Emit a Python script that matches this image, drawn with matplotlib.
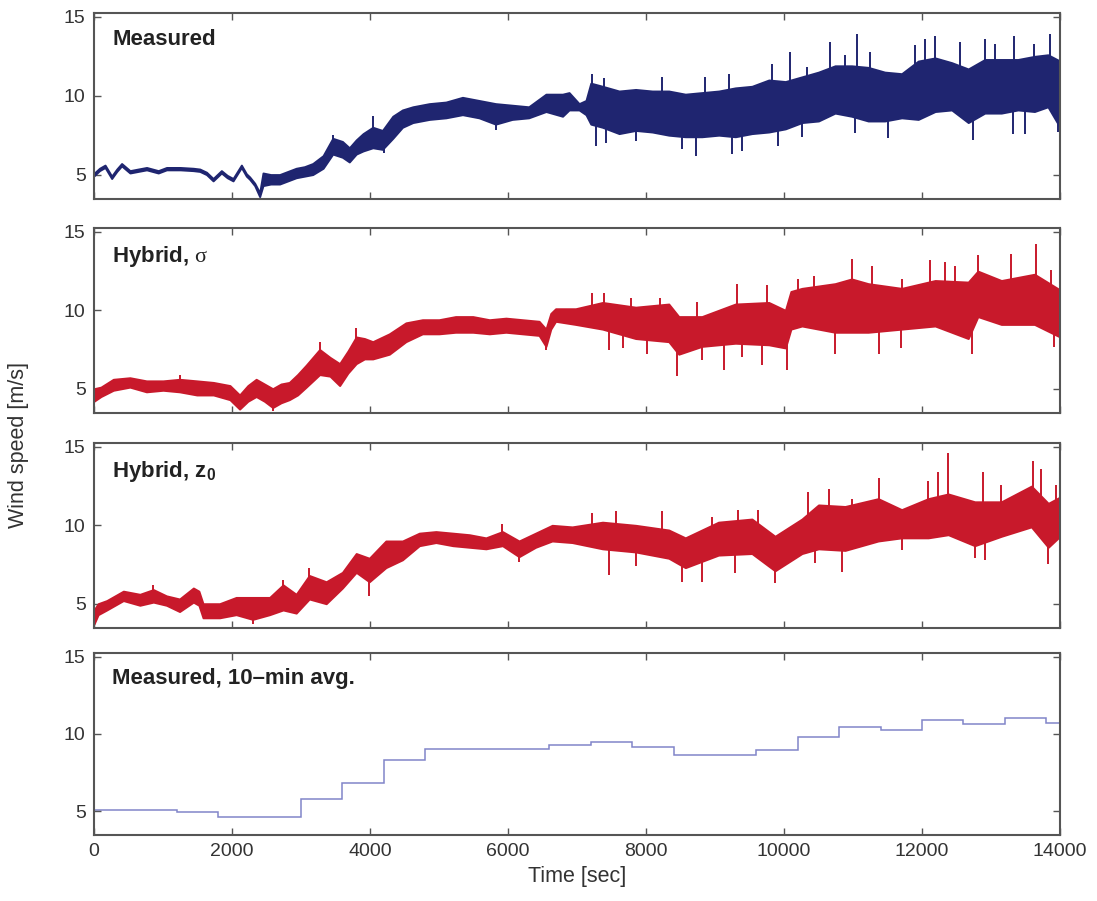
import matplotlib
matplotlib.use("Agg")
import matplotlib.pyplot as plt
import numpy as np

plt.rcParams['font.family'] = ['Liberation Sans', 'DejaVu Sans']
plt.rcParams['mathtext.fontset'] = 'custom'
plt.rcParams['mathtext.rm'] = 'Liberation Sans:bold'
plt.rcParams['mathtext.it'] = 'Liberation Serif'
plt.rcParams['mathtext.bf'] = 'Liberation Sans:bold'

# ---------------- data ----------------
# Measured: core envelope
t_meas = [0, 80, 160, 256, 330, 400, 521, 640, 762, 931, 1051, 1250, 1437, 1533, 1630, 1726,
          1846, 1930, 2015, 2136, 2208, 2256, 2329, 2401, 2449, 2560, 2690, 2810, 2930, 3050,
          3170, 3320, 3460, 3600, 3700, 3800, 3900, 4040, 4180, 4330, 4470, 4620, 4860, 5100,
          5340, 5580, 5820, 6060, 6300, 6550, 6790, 6885, 7030, 7130, 7200, 7370, 7610, 7850,
          8090, 8330, 8570, 8810, 9055, 9295, 9535, 9780, 10020, 10260, 10500, 10740, 10980,
          11220, 11460, 11705, 11945, 12190, 12430, 12670, 12910, 13150, 13390, 13630, 13825, 14000]
lo_meas = [4.92, 5.25, 5.45, 4.75, 5.2, 5.55, 5.1, 5.2, 5.3, 5.1, 5.3, 5.3, 5.25, 5.2, 5.0, 4.6,
           5.1, 4.8, 4.6, 5.45, 4.9, 4.7, 4.3, 3.6, 4.3, 4.4, 4.4, 4.6, 4.8, 4.9,
           5.0, 5.4, 6.3, 6.1, 5.8, 6.3, 6.5, 6.7, 6.6, 7.3, 8.0, 8.3, 8.5, 8.6,
           8.8, 8.6, 8.2, 8.5, 8.6, 9.0, 8.7, 9.1, 9.1, 8.8, 8.2, 8.0, 7.6, 7.8,
           7.7, 7.5, 7.4, 7.4, 7.5, 7.4, 7.6, 7.7, 7.9, 8.3, 8.4, 8.9, 8.7,
           8.4, 8.4, 8.6, 8.5, 9.0, 9.1, 8.3, 8.9, 8.9, 9.1, 9.0, 9.3, 8.0]
hi_meas = [5.08, 5.4, 5.6, 4.9, 5.35, 5.7, 5.25, 5.35, 5.45, 5.25, 5.45, 5.45, 5.4, 5.35, 5.15, 4.75,
           5.25, 4.95, 4.75, 5.6, 5.05, 4.85, 4.45, 3.85, 5.1, 5.0, 5.0, 5.2, 5.4, 5.5,
           5.7, 6.2, 7.3, 7.1, 6.7, 7.2, 7.6, 8.0, 7.8, 8.7, 9.1, 9.3, 9.5, 9.6,
           9.9, 9.7, 9.5, 9.4, 9.3, 10.1, 10.1, 10.2, 9.5, 9.7, 10.8, 10.6, 10.3, 10.4,
           10.3, 10.3, 10.1, 10.2, 10.3, 10.5, 10.6, 11.0, 10.9, 11.2, 11.5, 11.9, 11.9,
           11.8, 11.5, 11.4, 12.2, 12.4, 12.1, 11.7, 12.3, 12.3, 12.3, 12.5, 12.6, 12.2]
# Measured: spike tips
spk_meas_t = [3460, 4040, 7220, 7390, 8235, 8860, 9200, 9825, 10090, 10330, 10670, 10885,
              11055, 11250, 11900, 12040, 12190, 12550, 12910, 13055, 13340, 13630, 13850,
              7270, 7415, 7850, 8520, 8720, 9250, 9390, 9920, 10260, 11030, 11510, 12740,
              13320, 13490, 13970, 5830, 4200]
spk_meas_v = [7.5, 8.7, 11.4, 11.1, 11.2, 11.2, 11.4, 12.0, 12.8, 11.8, 13.4, 12.6,
              13.9, 12.8, 13.2, 13.6, 13.8, 13.4, 13.6, 13.3, 13.8, 13.3, 13.9,
              6.8, 7.0, 7.1, 6.6, 6.2, 6.3, 6.5, 6.8, 7.4, 7.65, 7.3, 7.2,
              7.55, 7.6, 7.7, 7.8, 6.4]

# Hybrid, sigma
t_sig = [0, 100, 280, 520, 760, 1000, 1240, 1490, 1730, 1970, 2110, 2230, 2350, 2470, 2590,
         2710, 2830, 2950, 3075, 3270, 3420, 3560, 3680, 3800, 3920, 4040, 4280, 4520, 4760,
         5000, 5240, 5490, 5730, 5970, 6210, 6450, 6550, 6620, 6690, 6980, 7370, 7850, 8330,
         8475, 8810, 9295, 9780, 10020, 10100, 10260, 10740, 10980, 11220, 11705, 12190,
         12670, 12810, 13150, 13630, 14000]
lo_sig = [4.2, 4.5, 4.9, 5.1, 4.8, 4.9, 4.8, 4.6, 4.6, 4.3, 3.7, 4.2, 4.5, 4.2, 3.8,
          4.1, 4.3, 4.6, 5.1, 5.9, 5.8, 5.2, 6.0, 6.6, 6.9, 6.9, 7.2, 8.0, 8.5,
          8.5, 8.6, 8.6, 8.5, 8.6, 8.5, 8.4, 7.7, 8.8, 9.3, 9.1, 8.8, 8.2, 8.0,
          7.2, 7.7, 7.9, 7.8, 7.6, 8.8, 9.0, 8.6, 8.6, 8.6, 8.8, 9.0,
          8.2, 9.6, 9.1, 9.1, 8.3]
hi_sig = [5.0, 5.1, 5.6, 5.7, 5.5, 5.5, 5.6, 5.5, 5.4, 5.2, 4.6, 5.2, 5.6, 5.3, 5.0,
          5.3, 5.4, 5.9, 6.5, 7.5, 7.0, 6.6, 7.4, 8.3, 8.2, 8.0, 8.5, 9.2, 9.4,
          9.4, 9.6, 9.6, 9.4, 9.5, 9.4, 9.3, 8.8, 9.8, 10.1, 10.1, 10.5, 10.2, 10.4,
          9.6, 9.6, 10.4, 10.5, 10.0, 11.2, 11.4, 11.7, 12.0, 11.7, 11.4, 11.9,
          11.8, 12.5, 11.9, 12.3, 11.3]
spk_sig_t = [1240, 2590, 3270, 3800, 7220, 7390, 7780, 8210, 8740, 9320, 9750, 10210, 10430,
             10980, 11270, 11705, 12115, 12330, 12475, 12810, 13295, 13655, 13875,
             7465, 7660, 8020, 8450, 8810, 9125, 9390, 9680, 10040, 10740, 11370, 11700,
             12720, 13920, 6550]
spk_sig_v = [5.9, 3.6, 8.0, 8.9, 11.1, 11.1, 10.8, 10.8, 10.5, 11.7, 11.6, 12.0, 12.2,
             13.3, 12.8, 12.0, 13.2, 13.1, 12.8, 13.5, 13.6, 14.2, 12.6,
             7.45, 7.6, 7.2, 5.8, 6.8, 6.2, 7.0, 6.5, 6.2, 7.2, 7.2, 7.6,
             7.2, 7.65, 7.45]

# Hybrid, z0
t_z0 = [0, 60, 185, 425, 665, 860, 1050, 1240, 1440, 1520, 1580, 1820, 2060, 2300, 2545,
        2740, 2930, 3120, 3365, 3600, 3800, 3990, 4230, 4470, 4715, 4955, 5200, 5440, 5680,
        5920, 6160, 6400, 6640, 6930, 7370, 7850, 8330, 8570, 9050, 9535, 9870, 10260, 10500,
        10885, 11365, 11705, 12090, 12380, 12765, 13150, 13585, 13830, 14000]
lo_z0 = [3.7, 4.3, 4.6, 5.2, 4.9, 5.1, 4.9, 4.5, 5.1, 4.9, 4.1, 4.1, 4.3, 4.0, 4.3,
         4.6, 4.4, 5.3, 5.0, 6.0, 7.0, 6.4, 7.3, 7.8, 8.7, 8.9, 8.7, 8.6, 8.5,
         8.7, 8.0, 8.6, 9.0, 8.9, 8.5, 8.3, 7.9, 7.3, 8.1, 8.2, 7.1, 8.2, 8.5,
         8.4, 9.0, 9.2, 9.2, 9.4, 8.7, 9.3, 9.9, 8.6, 9.3]
hi_z0 = [4.6, 5.0, 5.2, 5.8, 5.6, 5.9, 5.5, 5.3, 6.0, 5.8, 5.0, 5.0, 5.4, 5.4, 5.4,
         6.2, 5.6, 6.8, 6.4, 7.0, 8.2, 7.9, 9.0, 9.0, 9.5, 9.6, 9.5, 9.4, 9.2,
         9.6, 9.0, 9.5, 10.0, 9.9, 10.2, 10.0, 9.7, 9.2, 10.2, 10.4, 9.3, 10.4, 11.3,
         11.2, 11.7, 11.0, 11.7, 12.0, 11.5, 11.5, 12.5, 11.4, 11.8]
spk_z0_t = [860, 2300, 2740, 3120, 3990, 5920, 7220, 7560, 8235, 8960, 9340, 9630, 10355,
            10645, 10980, 11370, 12090, 12235, 12380, 12885, 13150, 13610, 13730, 13945,
            7460, 7850, 8525, 8810, 9295, 9870, 10450, 10840, 11705, 12765, 12910, 13830, 6160]
spk_z0_v = [6.2, 3.7, 6.5, 7.3, 5.5, 10.1, 10.8, 10.9, 10.9, 10.5, 11.0, 11.0, 12.1,
            12.3, 11.7, 13.0, 12.8, 13.4, 14.6, 13.4, 12.6, 14.1, 13.6, 12.6,
            6.85, 7.4, 6.4, 6.4, 6.95, 6.3, 7.6, 7.0, 8.4, 7.9, 7.8, 7.55, 7.65]

# Measured, 10-min average
avg_edges = [0, 600, 1200, 1800, 2400, 3000, 3600, 4200, 4800, 5400, 6000, 6600, 7200, 7800,
             8400, 9000, 9600, 10200, 10800, 11400, 12000, 12600, 13200, 13800, 14400]
avg_vals = [5.05, 5.05, 4.95, 4.6, 4.6, 5.8, 6.8, 8.3, 9.05, 9.05, 9.0, 9.28, 9.45, 9.13,
            8.63, 8.63, 8.95, 9.78, 10.43, 10.28, 10.9, 10.65, 11.04, 10.72]

panel_labels = ['Measured', r'Hybrid, $\sigma$', r'Hybrid, z$_0$', 'Measured, 10\u2013min avg.']
xticks = [0, 2000, 4000, 6000, 8000, 10000, 12000, 14000]
yticks = [5, 10, 15]

navy = '#1f2570'
red = '#c8192b'
step_col = '#8185c9'

# ---------------- figure ----------------
fig = plt.figure(figsize=(10.97, 9.01), dpi=100)
W, H = 1097, 901
left, right = 94 / W, 1060 / W
tops = [13, 228, 443, 653]
bots = [199, 413, 628, 835]
axes = []
for tp, bt in zip(tops, bots):
    ax = fig.add_axes([left, 1 - bt / H, right - left, (bt - tp) / H])
    axes.append(ax)

series = [(t_meas, lo_meas, hi_meas, spk_meas_t, spk_meas_v, navy),
          (t_sig, lo_sig, hi_sig, spk_sig_t, spk_sig_v, red),
          (t_z0, lo_z0, hi_z0, spk_z0_t, spk_z0_v, red)]

for ax, (t, lo, hi, st, sv, col) in zip(axes[:3], series):
    ax.fill_between(t, lo, hi, color=col, lw=1.4, edgecolor=col, zorder=2)
    base = np.interp(st, t, (np.array(lo) + np.array(hi)) / 2)
    ax.vlines(st, base, sv, color=col, lw=1.4, zorder=2)

axes[3].stairs(avg_vals, avg_edges, color=step_col, lw=1.1, baseline=None)

for i, ax in enumerate(axes):
    ax.set_xlim(0, 14000)
    ax.set_ylim(3.45, 15.25)
    ax.set_xticks(xticks)
    ax.set_yticks(yticks)
    ax.tick_params(direction='in', top=True, right=True, length=5, width=1,
                   colors='#555555', labelcolor='#333333', labelsize=14, pad=6)
    for sp in ax.spines.values():
        sp.set_color('#555555')
        sp.set_linewidth(1.5)
    if i < 3:
        ax.set_xticklabels([])
    ax.text(0.019, 0.915, panel_labels[i], transform=ax.transAxes, fontsize=16,
            fontweight='bold', color='#222222', va='top', ha='left')

axes[3].set_xlabel('Time [sec]', fontsize=15.5, color='#333333', labelpad=4)
fig.text(0.017, 1 - 445 / H, 'Wind speed [m/s]', rotation=90, fontsize=15.5,
         color='#333333', ha='center', va='center')

fig.savefig('out.png', dpi=100)
